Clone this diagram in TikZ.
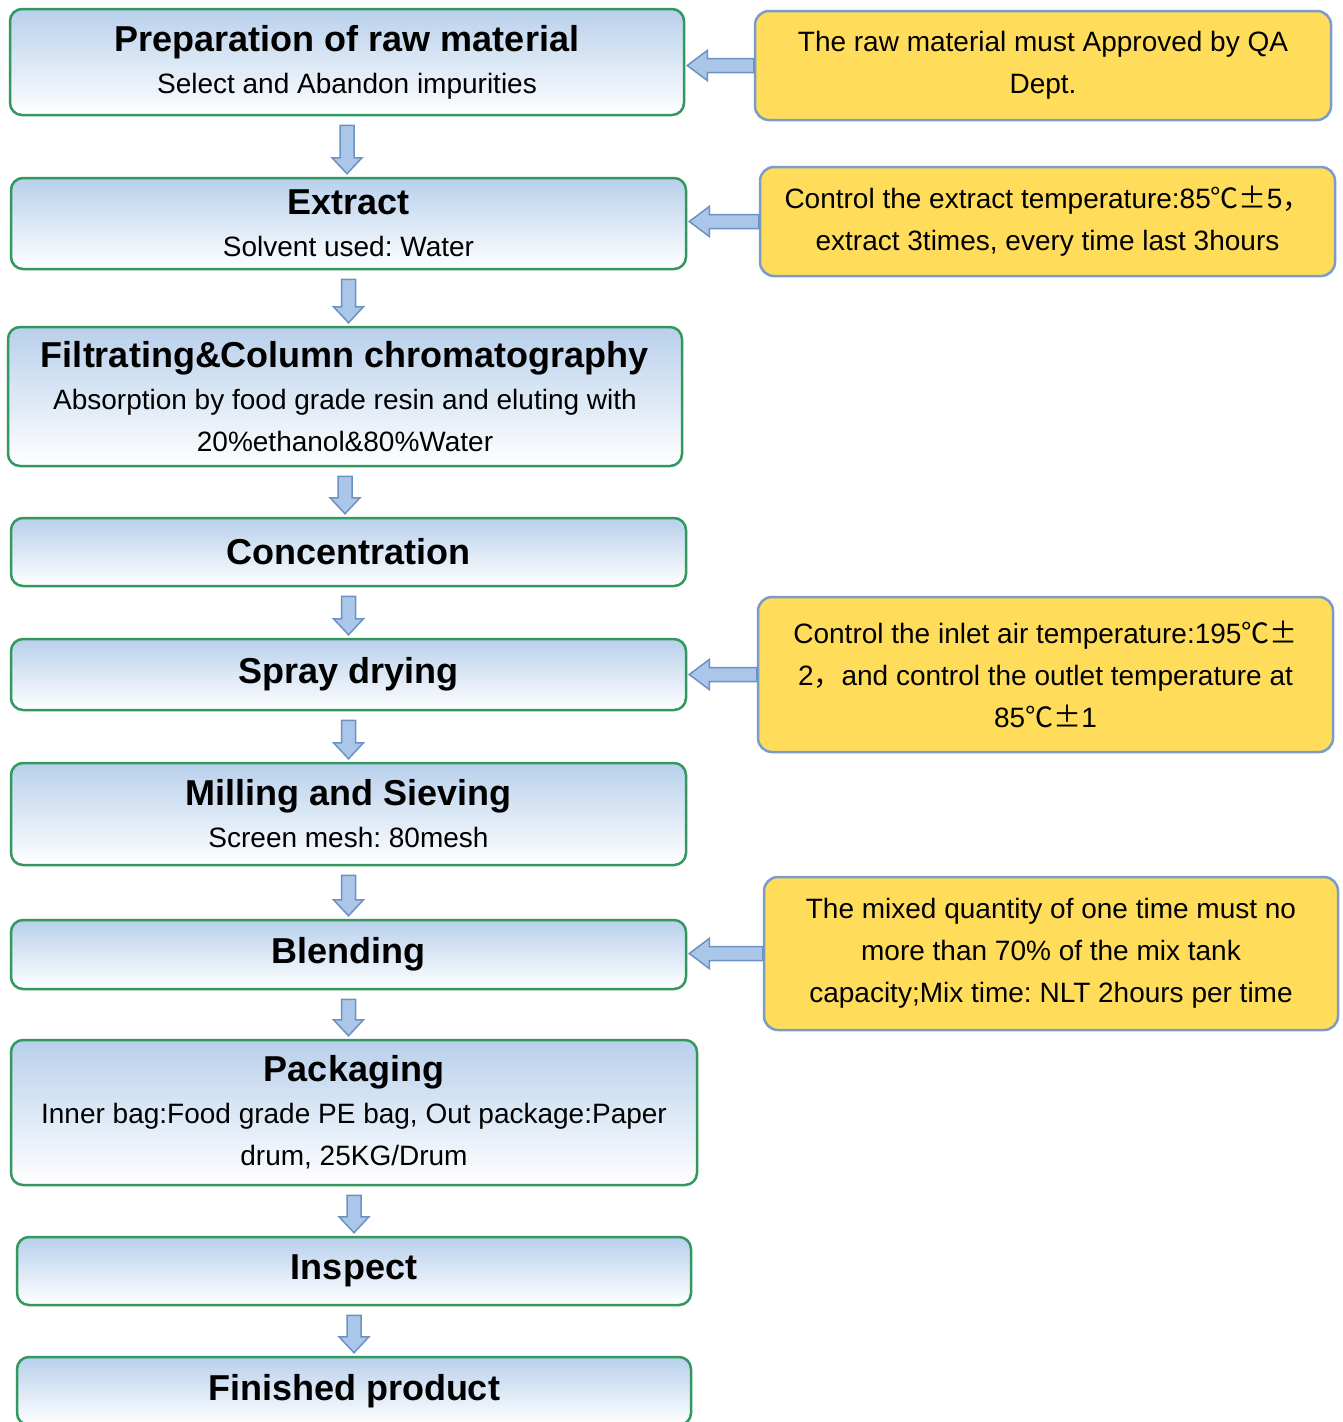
\documentclass[tikz,border=0pt]{standalone}
\usepackage{fontspec}
\setmainfont{Liberation Sans}
\newfontfamily\cjk{Noto Sans CJK SC}
\usetikzlibrary{calc}
\frenchspacing

\definecolor{boxblue}{RGB}{184,208,235}
\definecolor{boxgreen}{RGB}{50,152,96}
\definecolor{noteyellow}{RGB}{255,221,90}
\definecolor{noteedge}{RGB}{122,156,200}
\definecolor{arrowfill}{RGB}{170,198,232}
\definecolor{arrowedge}{RGB}{108,146,196}

\newcommand\steptitle[1]{{\fontsize{36}{42}\selectfont\bfseries #1}}
\newcommand\degpm{{\cjk ℃±}}

\tikzset{
    stepbox/.style={draw=boxgreen, line width=2.5pt, rounded corners=12pt,
        top color=boxblue, middle color=boxblue!80!white, bottom color=white,
        align=center, font=\fontsize{28}{42}\selectfont, inner sep=0pt},
    notebox/.style={draw=noteedge, line width=2.5pt, rounded corners=14pt,
        fill=noteyellow, align=center, font=\fontsize{28}{42}\selectfont, inner sep=0pt},
    blockarrow/.style={draw=arrowedge, line width=1.5pt, fill=arrowfill, line join=miter}
}

\newcommand\stepdown[2]{%
    \draw[blockarrow] ($(#1.south)+(-7,9)$) -- ($(#1.south |- #2.north)+(-7,-19)$)
        -- ($(#1.south |- #2.north)+(-15,-19)$) -- ($(#1.south |- #2.north)+(0,-3)$)
        -- ($(#1.south |- #2.north)+(15,-19)$) -- ($(#1.south |- #2.north)+(7,-19)$)
        -- ($(#1.south)+(7,9)$) -- cycle;}
\newcommand\noteto[2]{%
    \draw[blockarrow] ($(#1.west)+(0,-7)$) -- ($(#2.east |- #1.west)+(22,-7)$)
        -- ($(#2.east |- #1.west)+(22,-15)$) -- ($(#2.east |- #1.west)+(2,0)$)
        -- ($(#2.east |- #1.west)+(22,15)$) -- ($(#2.east |- #1.west)+(22,7)$)
        -- ($(#1.west)+(0,7)$) -- cycle;}

\begin{document}
\begin{tikzpicture}[x=1pt, y=-1pt]
    \clip (0,0) rectangle (1342,1422);
    \fill[white] (0,0) rectangle (1342,1422);

    \node[stepbox, minimum width=674pt, minimum height=106pt] (raw) at (347,62)
        {\steptitle{Preparation of raw material}\\Select and Abandon impurities};
    \node[stepbox, minimum width=675pt, minimum height=91pt] (extract) at (348.5,223.5)
        {\steptitle{Extract}\\Solvent used: Water};
    \node[stepbox, minimum width=674pt, minimum height=139pt] (filter) at (345,396.5)
        {\steptitle{Filtrating\&Column chromatography}\\Absorption by food grade resin and eluting with\\20\%ethanol\&80\%Water};
    \node[stepbox, minimum width=675pt, minimum height=68pt] (conc) at (348.5,552)
        {\steptitle{Concentration}};
    \node[stepbox, minimum width=675pt, minimum height=71pt] (spray) at (348.5,674.5)
        {\steptitle{Spray drying}};
    \node[stepbox, minimum width=675pt, minimum height=102pt] (mill) at (348.5,814)
        {\steptitle{Milling and Sieving}\\Screen mesh: 80mesh};
    \node[stepbox, minimum width=675pt, minimum height=69pt] (blend) at (348.5,954.5)
        {\steptitle{Blending}};
    \node[stepbox, minimum width=686pt, minimum height=145pt] (pack) at (354,1112.5)
        {\steptitle{Packaging}\\Inner bag:Food grade PE bag, Out package:Paper\\drum, 25KG/Drum};
    \node[stepbox, minimum width=674pt, minimum height=68pt] (inspect) at (354,1271)
        {\steptitle{Inspect}};
    \node[stepbox, minimum width=674pt, minimum height=68pt] (final) at (354,1391)
        {\steptitle{Finished product}};

    \node[notebox, minimum width=576pt, minimum height=109pt] (qa) at (1043,65.5)
        {The raw material must Approved by QA\\Dept.};
    \node[notebox, minimum width=575pt, minimum height=109pt] (temp) at (1047.5,221.5)
        {Control the extract temperature:85\degpm5{\cjk ，}\\extract 3times, every time last 3hours};
    \node[notebox, minimum width=575pt, minimum height=155pt] (inlet) at (1045.5,674.5)
        {Control the inlet air temperature:195\degpm\\2{\cjk ，}and control the outlet temperature at\\85\degpm1};
    \node[notebox, minimum width=574pt, minimum height=153pt] (mix) at (1051,953.5)
        {The mixed quantity of one time must no\\more than 70\% of the mix tank\\capacity;Mix time: NLT 2hours per time};

    \stepdown{raw}{extract}
    \stepdown{extract}{filter}
    \stepdown{filter}{conc}
    \stepdown{conc}{spray}
    \stepdown{spray}{mill}
    \stepdown{mill}{blend}
    \stepdown{blend}{pack}
    \stepdown{pack}{inspect}
    \stepdown{inspect}{final}

    \noteto{qa}{raw}
    \noteto{temp}{extract}
    \noteto{inlet}{spray}
    \noteto{mix}{blend}
\end{tikzpicture}
\end{document}
